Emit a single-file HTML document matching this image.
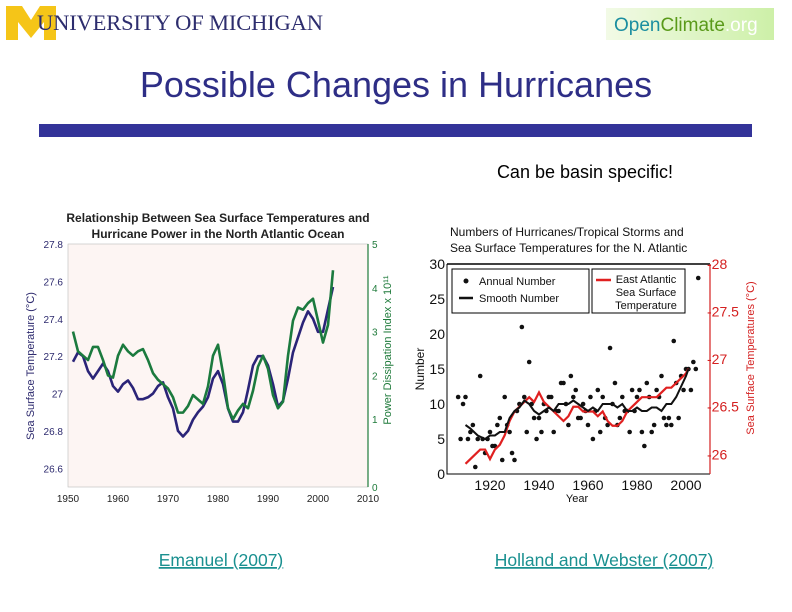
<!DOCTYPE html>
<html><head><meta charset="utf-8"><style>
html,body{margin:0;padding:0;background:#fff;}
svg{display:block;font-family:"Liberation Sans",sans-serif;}
</style></head><body>
<svg id="s" width="792" height="612" viewBox="0 0 792 612">
  <g>
    <path d="M6,6 H22 L31,20 L40,6 H56 V40 H44 V22 L31,38 L18,22 V40 H6 Z" fill="#f5c518"/>
    <text x="37" y="30" font-family="Liberation Serif,serif" font-size="22.5" textLength="286" fill="#2d2d6e">UNIVERSITY OF MICHIGAN</text>
  </g>
  <g>
    <defs><linearGradient id="og" x1="0" x2="1"><stop offset="0" stop-color="#f2fae6"/><stop offset="1" stop-color="#cdf0a8"/></linearGradient></defs>
    <rect x="606" y="8" width="168" height="32" fill="url(#og)"/>
    <text x="614" y="31" font-size="19"><tspan fill="#1b8ea0">Open</tspan><tspan fill="#5a9a1a">Climate</tspan><tspan fill="#ffffff">.org</tspan></text>
  </g>
  <text x="396" y="97" text-anchor="middle" font-size="36" fill="#2e2e86">Possible Changes in Hurricanes</text>
  <rect x="39" y="124" width="713" height="13" fill="#333399"/>
  <text x="585" y="178" text-anchor="middle" font-size="18" fill="#000">Can be basin specific!</text>
  <text x="221" y="566" text-anchor="middle" font-size="17.5" fill="#1a9090" text-decoration="underline">Emanuel (2007)</text>
  <text x="604" y="566" text-anchor="middle" font-size="17.5" fill="#1a9090" text-decoration="underline">Holland and Webster (2007)</text>
  <g id="left"></g>
  <g id="right"></g>
</svg>
<script>
// ---- Left chart data ----
const leftYears = [1951,1952,1953,1954,1955,1956,1957,1958,1959,1960,1961,1962,1963,1964,1965,1966,1967,1968,1969,1970,1971,1972,1973,1974,1975,1976,1977,1978,1979,1980,1981,1982,1983,1984,1985,1986,1987,1988,1989,1990,1991,1992,1993,1994,1995,1996,1997,1998,1999,2000,2001,2002,2003];
const leftSST = [27.17,27.22,27.2,27.12,27.08,27.12,27.16,27.12,27.04,27.01,27.05,27.07,27.03,26.97,26.97,26.98,27.0,27.04,27.06,26.98,26.92,26.8,26.77,26.8,26.86,26.9,26.93,26.98,27.08,27.12,27.05,26.92,26.85,26.85,26.9,27.02,27.15,27.2,27.2,27.15,27.05,26.93,26.96,27.08,27.22,27.3,27.38,27.44,27.4,27.33,27.33,27.45,27.57];
const leftPDI = [3.0,2.55,2.45,2.35,2.65,2.65,2.35,2.0,1.95,2.45,2.7,2.55,2.45,2.55,2.6,2.35,2.05,1.9,1.8,1.7,1.5,1.15,1.15,1.3,1.55,1.45,1.35,1.75,2.45,2.7,2.05,1.25,1.0,1.2,1.35,1.25,1.65,2.2,2.45,2.15,1.55,1.25,1.4,2.45,3.25,3.55,3.5,3.65,3.75,3.25,2.75,3.15,4.4];
const leftXTicks = [1950,1960,1970,1980,1990,2000,2010];
const leftYTicks = [26.6,26.8,27,27.2,27.4,27.6,27.8];
const leftY2Ticks = [1,2,3,4,5];
// ---- Right chart data ----
const stormYears = [1907,1908,1909,1910,1911,1912,1913,1914,1915,1916,1917,1918,1919,1920,1921,1922,1923,1924,1925,1926,1927,1928,1929,1930,1931,1932,1933,1934,1935,1936,1937,1938,1939,1940,1941,1942,1943,1944,1945,1946,1947,1948,1949,1950,1951,1952,1953,1954,1955,1956,1957,1958,1959,1960,1961,1962,1963,1964,1965,1966,1967,1968,1969,1970,1971,1972,1973,1974,1975,1976,1977,1978,1979,1980,1981,1982,1983,1984,1985,1986,1987,1988,1989,1990,1991,1992,1993,1994,1995,1996,1997,1998,1999,2000,2001,2002,2003,2004,2005];
const stormCounts = [11,5,10,11,5,6,7,1,5,14,5,3,5,6,4,4,7,8,2,11,7,6,3,2,9,10,21,11,6,16,10,8,5,8,6,10,9,11,11,6,9,9,13,13,10,7,14,11,12,8,8,10,9,7,11,5,9,12,6,11,8,7,18,10,13,7,8,11,9,9,6,12,9,11,12,6,4,13,11,6,7,12,11,14,8,7,8,7,19,13,8,14,12,15,15,12,16,15,28];
const smoothYears = [1910,1912,1915,1918,1920,1922,1924,1926,1928,1930,1932,1934,1936,1938,1940,1942,1944,1946,1948,1950,1952,1954,1956,1958,1960,1962,1964,1966,1968,1970,1972,1974,1976,1978,1980,1982,1984,1986,1988,1990,1992,1994,1996,1998,2000,2001];
const smoothCounts = [7,6.5,5.5,5,5.5,5.5,6,6,8,9,9.5,10.5,10,9,8.5,9,9.5,9,10,10,10,10.5,10,9.5,9,9.5,9,10,10,10,9.5,10,9,9,9.5,9,9,9.5,9.5,9,10,10,11,12.5,14,15];
const sstYears = [1910,1912,1914,1916,1918,1920,1922,1924,1926,1928,1930,1932,1934,1936,1938,1940,1942,1944,1946,1948,1950,1952,1954,1956,1958,1960,1962,1964,1966,1968,1970,1972,1974,1976,1978,1980,1982,1984,1986,1988,1990,1992,1994,1996,1998,2000,2001];
const sstValues = [25.9,25.95,26.0,26.05,26.05,25.95,26.05,26.1,26.2,26.35,26.45,26.5,26.55,26.6,26.55,26.65,26.55,26.5,26.45,26.4,26.35,26.4,26.5,26.5,26.45,26.45,26.45,26.4,26.45,26.35,26.3,26.3,26.35,26.45,26.5,26.55,26.6,26.6,26.6,26.6,26.65,26.7,26.7,26.75,26.8,26.85,26.9];
const rightXTicks = [1920,1940,1960,1980,2000];
const rightYTicks = [0,5,10,15,20,25,30];
const rightY2Ticks = [26,26.5,27,27.5,28];

const NS='http://www.w3.org/2000/svg';
function mk(parent,tag,attrs,txt){const e=document.createElementNS(NS,tag);for(const k in attrs)e.setAttribute(k,attrs[k]);if(txt!==undefined)e.textContent=txt;parent.appendChild(e);return e;}
function lin(d0,d1,r0,r1){return v=>r0+(v-d0)/(d1-d0)*(r1-r0);}

// ---------- LEFT ----------
(function(){
  const g=document.getElementById('left');
  const X=lin(1950,2010,68,368), Y=lin(26.5,27.8,487,244), Y2=lin(0,5,463,244);
  const bg=mk(g,'rect',{x:68,y:244,width:300,height:243,fill:'#fdf5f3',stroke:'#bbb','stroke-width':0.6});
  
  
  const t1=mk(g,'text',{x:218,y:222,'text-anchor':'middle','font-size':12,'font-weight':'bold',fill:'#222'},'Relationship Between Sea Surface Temperatures and');
  
  
  const t2=mk(g,'text',{x:218,y:238,'text-anchor':'middle','font-size':12,'font-weight':'bold',fill:'#222'},'Hurricane Power in the North Atlantic Ocean');
  
  
  const ax=mk(g,'line',{x1:368,y1:244,x2:368,y2:487,stroke:'#1e7a3a','stroke-width':1.2});
  
  
  leftXTicks.forEach(v=>{const t=mk(g,'text',{x:X(v),y:502,'text-anchor':'middle','font-size':10,fill:'#222'},String(v));
    
    });
  leftYTicks.forEach(v=>{const t=mk(g,'text',{x:63,y:Y(v)+4,'text-anchor':'end','font-size':10,fill:'#2d2a6e'},String(v));
    
    });
  leftY2Ticks.forEach(v=>{const t=mk(g,'text',{x:372,y:Y2(v)+4,'font-size':10,fill:'#1e7a3a'},String(v));
    
    });
  const z=mk(g,'text',{x:372,y:491,'font-size':10,fill:'#1e7a3a'},'0');
  
  
  const yl=mk(g,'text',{transform:'translate(34,366) rotate(-90)','text-anchor':'middle','font-size':11,fill:'#2d2a6e'},'Sea Surface Temperature (°C)');
  
  
  const yl2=mk(g,'text',{transform:'translate(391,350) rotate(-90)','text-anchor':'middle','font-size':11,fill:'#1e7a3a'},'Power Dissipation Index x 10¹¹');
  
  
  const pb=mk(g,'polyline',{points:leftYears.map((y,i)=>X(y)+','+Y(leftSST[i])).join(' '),fill:'none',stroke:'#2b2478','stroke-width':2.6,'stroke-linejoin':'round'});
  
  
  const pg=mk(g,'polyline',{points:leftYears.map((y,i)=>X(y)+','+Y2(leftPDI[i])).join(' '),fill:'none',stroke:'#1b7a3e','stroke-width':2.6,'stroke-linejoin':'round'});
  
  
})();

// ---------- RIGHT ----------
(function(){
  const g=document.getElementById('right');
  const X=lin(1920,2000,490,686), Y=lin(0,30,474,264), Y2=lin(26,28,454.3,264);
  const t1=mk(g,'text',{x:450,y:236,'font-size':12,fill:'#111'},'Numbers of Hurricanes/Tropical Storms and');
  
  
  const t2=mk(g,'text',{x:450,y:252,'font-size':12,fill:'#111'},'Sea Surface Temperatures for the N. Atlantic');
  
  
  const fr=mk(g,'path',{d:'M447,264 V474 H710',fill:'none',stroke:'#000','stroke-width':1});
  
  
  const tp=mk(g,'line',{x1:447,y1:264,x2:710,y2:264,stroke:'#000','stroke-width':1.5});
  
  
  const ra=mk(g,'line',{x1:710,y1:264,x2:710,y2:474,stroke:'#d42020','stroke-width':1.2});
  
  
  rightXTicks.forEach(v=>{const t=mk(g,'text',{x:X(v),y:490,'text-anchor':'middle','font-size':14,fill:'#111'},String(v));
    
    });
  rightYTicks.forEach(v=>{const t=mk(g,'text',{x:445,y:Y(v)+5,'text-anchor':'end','font-size':14,fill:'#111'},String(v));
    
    });
  rightY2Ticks.forEach(v=>{const t=mk(g,'text',{x:707,y:Y2(v)+5,'font-size':14,fill:'#d42020'},'-'+v);
    
    });
  const xl=mk(g,'text',{x:577,y:502,'text-anchor':'middle','font-size':11,fill:'#111'},'Year');
  
  
  const yl=mk(g,'text',{transform:'translate(424,369) rotate(-90)','text-anchor':'middle','font-size':12,fill:'#111'},'Number');
  
  
  const yl2=mk(g,'text',{transform:'translate(754,358) rotate(-90)','text-anchor':'middle','font-size':11,fill:'#d42020'},'Sea Surface Temperatures (°C)');
  
  
  stormYears.forEach((y,i)=>{const c=mk(g,'circle',{cx:X(y),cy:Y(stormCounts[i]),r:2.3,fill:'#111'});
    
    });
  const rl=mk(g,'polyline',{points:sstYears.map((y,i)=>X(y)+','+Y2(sstValues[i])).join(' '),fill:'none',stroke:'#e02020','stroke-width':2.2});
  
  
  const bl=mk(g,'polyline',{points:smoothYears.map((y,i)=>X(y)+','+Y(smoothCounts[i])).join(' '),fill:'none',stroke:'#111','stroke-width':2});
  
  
  const l1=mk(g,'rect',{x:452,y:269,width:137,height:44,fill:'#fff',stroke:'#000','stroke-width':1});
  
  
  const d=mk(g,'circle',{cx:466,cy:281,r:2.5,fill:'#111'});
  
  
  const lt1=mk(g,'text',{x:479,y:285,'font-size':11,fill:'#111'},'Annual Number');
  
  
  const ll=mk(g,'line',{x1:459,y1:298,x2:473,y2:298,stroke:'#111','stroke-width':2.5});
  
  
  const lt2=mk(g,'text',{x:479,y:302,'font-size':11,fill:'#111'},'Smooth Number');
  
  
  const l2=mk(g,'rect',{x:592,y:269,width:93,height:44,fill:'#fff',stroke:'#000','stroke-width':1});
  
  
  const rl2=mk(g,'line',{x1:596,y1:280,x2:611,y2:280,stroke:'#e02020','stroke-width':2.5});
  
  
  [['East Atlantic',283],['Sea Surface',296],['Temperature',309]].forEach(a=>{const t=mk(g,'text',{x:646,y:a[1],'text-anchor':'middle','font-size':11,fill:'#111'},a[0]);
    
    });
})();
</script>
</body></html>
